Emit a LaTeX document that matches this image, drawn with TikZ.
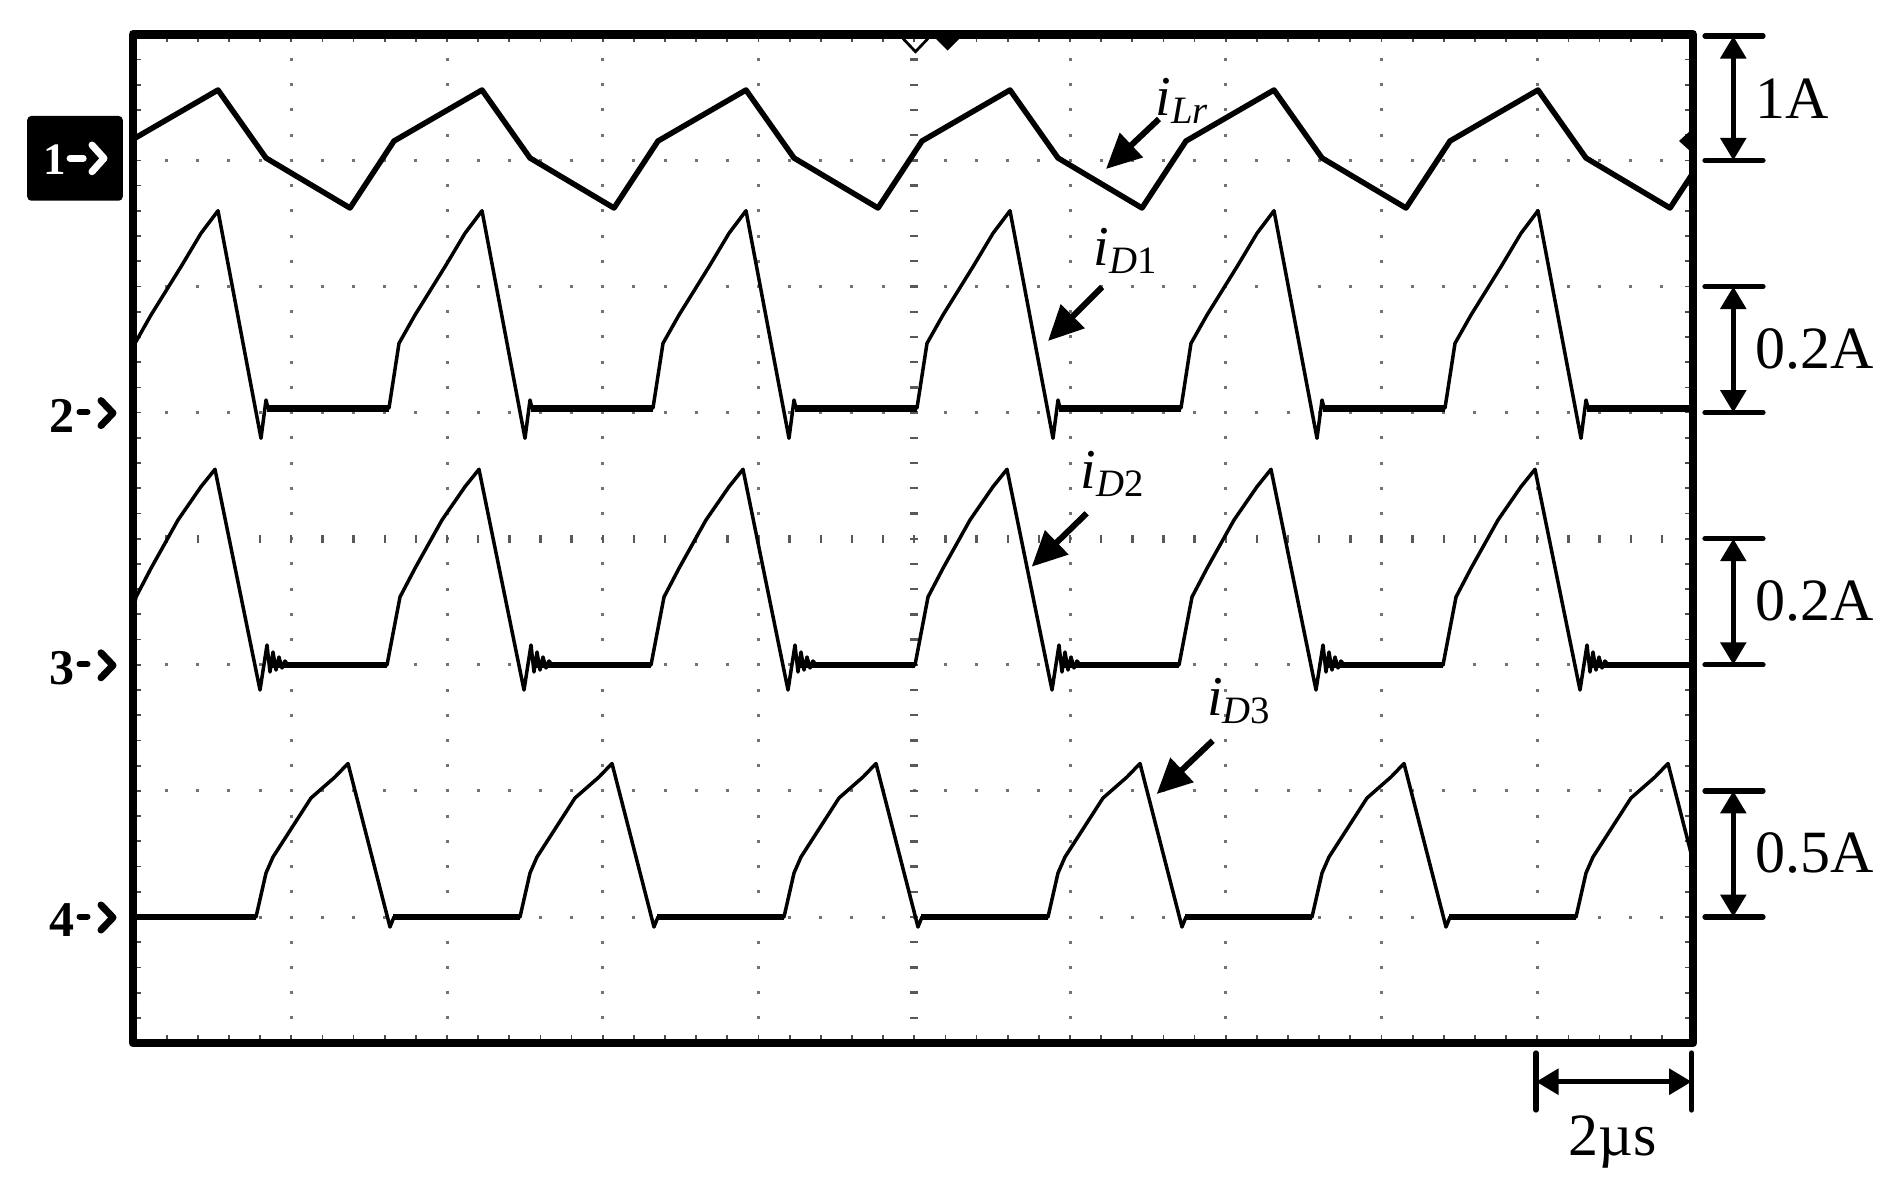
\documentclass[tikz,border=0pt]{standalone}
\usepackage{fontspec}
\setmainfont{Liberation Serif}
\usetikzlibrary{arrows.meta}
\begin{document}
\begin{tikzpicture}[x=0.4pt,y=-0.4pt,
  gdot/.style={fill=black!55},
  cdash/.style={fill=black!65},
  edgetick/.style={line width=0.7pt, draw=black!70},
  trace/.style={line width=1.4pt, line join=round, line cap=round},
  thicktrace/.style={line width=2.2pt, line join=round, line cap=round},
  flatbar/.style={line width=2.8pt},
  flatbarthin/.style={line width=2.2pt},
  lblarrow/.style={line width=2.4pt, -{Triangle[length=14pt,width=13pt]}},
  scalebar/.style={line width=2.1pt, line cap=round},
  dimarrow/.style={line width=2.2pt, {Triangle[length=9pt,width=10pt]}-{Triangle[length=9pt,width=10pt]}},
  scaletext/.style={font=\fontsize{24}{26}\selectfont, inner sep=0pt},
  chtext/.style={font=\fontsize{20}{22}\selectfont\bfseries, inner sep=0pt},
  chev/.style={line width=2.8pt, line cap=round, line join=round},
  lbltext/.style={inner sep=0pt, anchor=base west, font=\fontsize{22.5}{24}\selectfont},
]
\useasboundingbox (0,0) rectangle (1895,1186);
\fill[white] (0,0) rectangle (1895,1186);

% ---------- grid dots ----------
\foreach \j in {1,2,3,5,6,7} {
  \foreach \k in {1,...,49} {
    \fill[gdot] ({135.5+\k*31.15-1.5},{34.3+\j*126.1-1.5}) rectangle +(3,3);
  }
}
\foreach \i in {1,2,3,4,6,7,8,9} {
  \foreach \m in {1,...,39} {
    \fill[gdot] ({135.5+\i*155.75-1.5},{34.3+\m*25.22-1.5}) rectangle +(3,3);
  }
}
% centre axes with small dashes
\foreach \m in {1,...,39} {
  \fill[cdash] ({914.25-4},{34.3+\m*25.22-1.2}) rectangle +(8,2.4);
}
\foreach \k in {1,...,49} {
  \fill[cdash] ({135.5+\k*31.15-1.2},{538.7-4}) rectangle +(2.4,8);
}
% ticks on the frame edges
\foreach \m in {1,...,39} {
  \draw[edgetick] (137,{34.3+\m*25.22}) -- +(4,0);
  \draw[edgetick] (1689,{34.3+\m*25.22}) -- +(-4,0);
}
\foreach \k in {1,...,49} {
  \draw[edgetick] ({135.5+\k*31.15},38.3) -- +(0,4);
  \draw[edgetick] ({135.5+\k*31.15},1039) -- +(0,-4);
}

% ---------- waveforms ----------
\begin{scope}
\clip (137,38.3) rectangle (1689,1039);
% i_Lr  (channel 1)
\draw[thicktrace] (130,141) \foreach \k in {0,...,5} {
  -- ({218+264*\k},90) -- ({266+264*\k},158) -- ({350+264*\k},208) -- ({394+264*\k},141) };
% i_D1  (channel 2)
\draw[trace] (125,408) \foreach \k in {0,...,5} {
  -- ({218+264*\k-83},343.3) -- ({218+264*\k-67},315) -- ({218+264*\k-37},266.7)
  -- ({218+264*\k-17},233.3) -- ({218+264*\k},210.7) -- ({218+264*\k+43},438.3)
  -- ({218+264*\k+48},400) -- ({218+264*\k+50},408) -- ({218+264*\k+171},408) };
\foreach \k in {0,...,5} {
  \draw[flatbar] ({218+264*\k+49},408) -- ({218+264*\k+171},408);
}
% i_D2  (channel 3)
\draw[trace] (123,665) \foreach \k in {0,...,5} {
  -- ({218+264*\k-82},597) -- ({218+264*\k-67},568.3) -- ({218+264*\k-40},520)
  -- ({218+264*\k-17},486.7) -- ({218+264*\k-3},469.3) -- ({218+264*\k+42},690)
  -- ({218+264*\k+49},645) -- ({218+264*\k+52},672) -- ({218+264*\k+55},652)
  -- ({218+264*\k+58},670) -- ({218+264*\k+61},657) -- ({218+264*\k+64},668)
  -- ({218+264*\k+67},661) -- ({218+264*\k+70},665) -- ({218+264*\k+169},665) };
\foreach \k in {0,...,5} {
  \draw[flatbarthin] ({218+264*\k+50},665) -- ({218+264*\k+169},665);
}
% i_D3  (channel 4)
\draw[trace] (130,917) \foreach \k in {0,...,5} {
  -- ({348+264*\k-92},917) -- ({348+264*\k-82},873) -- ({348+264*\k-75},857)
  -- ({348+264*\k-37},798) -- ({348+264*\k-13},777) -- ({348+264*\k},763.5)
  -- ({348+264*\k+42},927) -- ({348+264*\k+46},917) };
\draw[flatbarthin] (130,917) -- (256,917);
\foreach \k in {0,...,4} {
  \draw[flatbarthin] ({348+264*\k+45},917) -- ({348+264*\k+172},917);
}
\end{scope}

% ---------- frame ----------
\draw[line width=3.4pt, line join=round] (133,34.3) rectangle (1693,1043);

% trigger / level markers
\draw[line width=1.1pt] (903,38.5) -- (915.5,51.7) -- (928,38.5);
\fill (935,38) -- (947.5,50.5) -- (960,38) -- cycle;
\fill (1690,131) -- (1679,141) -- (1690,151) -- cycle;

% ---------- channel markers ----------
\node[fill=black, rounded corners=1.6pt, minimum width=38.2pt, minimum height=33.9pt, inner sep=0pt] (ch1box) at (75,158.35) {};
\node[chtext, text=white, anchor=base, font=\fontsize{18}{20}\selectfont\bfseries] (ch1num) at (55,174) {1};
\draw[chev, white, line width=2.7pt] (70,158.3) -- (83.3,158.3);
\draw[chev, white] (92,145) -- (104,158.3) -- (92,171.7);
\foreach \n/\g in {2/412.6, 3/664.8, 4/917} {
  \node[chtext, anchor=base] (ch\n num) at (62.5,{\g+19.4}) {\n};
  \draw[chev, line width=2.4pt] (79.5,{\g-0.5}) -- (87.5,{\g-0.5});
  \draw[chev] (101,{\g-12}) -- (113,{\g+0.5}) -- (101,{\g+13});
}

% ---------- trace labels ----------
\node[lbltext] (lLr) at (1155,115) {\textit{i}\raisebox{-3.2pt}{\fontsize{15.5}{17}\selectfont\textit{Lr}}};
\node[lbltext] (lD1) at (1093,265) {\textit{i}\raisebox{-3.2pt}{\fontsize{15.5}{17}\selectfont\textit{D}1}};
\node[lbltext] (lD2) at (1080,488) {\textit{i}\raisebox{-3.2pt}{\fontsize{15.5}{17}\selectfont\textit{D}2}};
\node[lbltext] (lD3) at (1206.7,715) {\textit{i}\raisebox{-3.2pt}{\fontsize{15.5}{17}\selectfont\textit{D}3}};

\coordinate (aLrA) at (1159,119);   \coordinate (aLrB) at (1106,169);
\coordinate (aD1A) at (1102,287);   \coordinate (aD1B) at (1048,341);
\coordinate (aD2A) at (1086.7,513.3); \coordinate (aD2B) at (1031.7,566.7);
\coordinate (aD3A) at (1212.7,740.7); \coordinate (aD3B) at (1156.7,794);
\draw[lblarrow] (aLrA) -- (aLrB);
\draw[lblarrow] (aD1A) -- (aD1B);
\draw[lblarrow] (aD2A) -- (aD2B);
\draw[lblarrow] (aD3A) -- (aD3B);

% ---------- vertical scale bars ----------
\foreach \t/\b/\nm in {36/160.4/a, 286.5/412.6/b, 538.7/664.8/c, 790.9/917/d} {
  \coordinate (sT\nm) at (1733.3,\t);
  \coordinate (sB\nm) at (1733.3,\b);
  \draw[scalebar] (1705,\t) -- (1763,\t);
  \draw[scalebar] (1705,\b) -- (1763,\b);
  \draw[dimarrow] (sT\nm) -- (sB\nm);
}
\node[scaletext, anchor=base west] (t1) at (1755,118.3) {1A};
\node[scaletext, anchor=base west] (t2) at (1755,368.3) {0.2A};
\node[scaletext, anchor=base west] (t3) at (1755,620.5) {0.2A};
\node[scaletext, anchor=base west] (t4) at (1755,872.7) {0.5A};

% ---------- time scale ----------
\coordinate (hL) at (1536,1081.7);
\coordinate (hR) at (1691.7,1081.7);
\draw[scalebar] (1536,1053) -- (1536,1110);
\draw[scalebar] (1691.7,1053) -- (1691.7,1110);
\draw[dimarrow] (hL) -- (hR);
\node[scaletext, anchor=base] (t5) at (1612.5,1155) {2µs};
\end{tikzpicture}
\end{document}
